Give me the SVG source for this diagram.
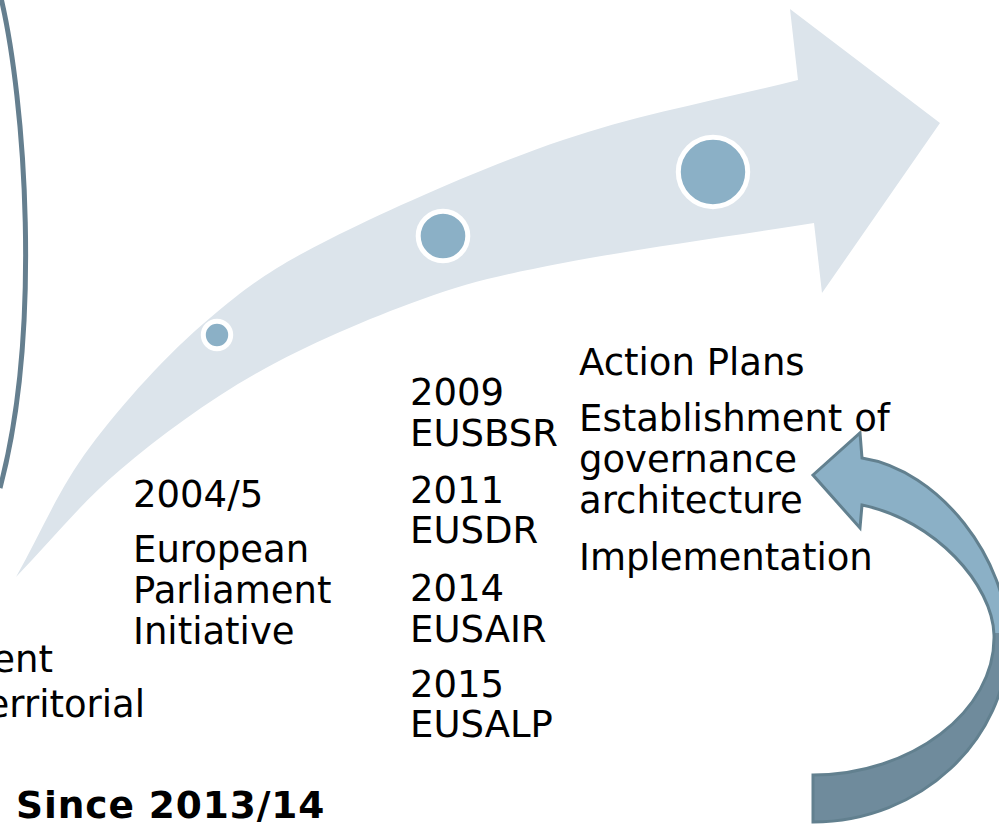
<svg xmlns="http://www.w3.org/2000/svg" width="999" height="825" viewBox="0 0 999 825">
  <defs>
    <style>
      .lbl { font-family: "DejaVu Sans", Verdana, "Liberation Sans", sans-serif; font-size: 37px; fill: #000; }
      .bold { font-family: "DejaVu Sans", Verdana, "Liberation Sans", sans-serif; font-size: 37.5px; font-weight: bold; letter-spacing: 0.9px; fill: #000; }
      .dot { fill: #8bb0c6; stroke: #ffffff; stroke-width: 5; }
    </style>
    <linearGradient id="cycleFill" gradientUnits="userSpaceOnUse" x1="0" y1="420" x2="0" y2="825">
      <stop offset="0" stop-color="#8bb0c6"/>
      <stop offset="0.526" stop-color="#8bb0c6"/>
      <stop offset="0.526" stop-color="#6f8b9c"/>
      <stop offset="1" stop-color="#6f8b9c"/>
    </linearGradient>
  </defs>

  <rect width="999" height="825" fill="#ffffff"/>

  <!-- edge of the large ring on the left -->
  <g id="ring-edge">
    <path d="M1,-2 C25,100 42,330 0,488" fill="none" stroke="#657f8f" stroke-width="5"/>
  </g>

  <!-- main curved progress arrow -->
  <g id="progress-arrow">
    <path fill="#dce4eb" d="M16,577
      C40.7,533.7 57.7,490.3 90,447
      C122.3,403.7 168,353 210,318
      C250,284 276,266 330,239
      C388.8,209.5 485,166.3 563,140
      C641,113.7 719.7,100 798,80
      L790,9 L940,123 L822,293 L814,223
      C730.3,236.3 628.7,250.2 563,263
      C497.3,275.8 471,281.7 420,300
      C369,318.3 307,344.7 257,373
      C207,401.3 160.2,436 120,470
      C79.8,504 50.7,541.3 16,577 Z"/>
  </g>

  <!-- milestones on the arrow -->
  <g id="stage-1"><circle class="dot" cx="217" cy="335" r="13.7"/></g>
  <g id="stage-2"><circle class="dot" cx="443" cy="236" r="24.8"/></g>
  <g id="stage-3"><circle class="dot" cx="713" cy="172" r="34.7"/></g>

  <!-- returning cycle arrow -->
  <g id="cycle-arrow">
    <path fill="url(#cycleFill)" stroke="#62808f" stroke-width="3" stroke-linejoin="miter"
      d="M813,775
         C910,775 996,712 994,635
         C993,585 935,520 862,505
         L860,528 L813,475 L860,433 L862,458
         C940,470 1008,560 1008,640
         C1008,740 920,822 813,822 Z"/>
  </g>

  <!-- texts -->
  <g id="text-left">
    <text class="lbl" x="53" y="672" text-anchor="end">ent</text>
    <text class="lbl" x="145" y="717" text-anchor="end">erritorial</text>
    <text class="bold" x="16" y="818">Since 2013/14</text>
  </g>

  <g id="text-2004">
    <text class="lbl" x="133" y="507">2004/5</text>
    <text class="lbl" x="133" y="562">European</text>
    <text class="lbl" x="133" y="603">Parliament</text>
    <text class="lbl" x="133" y="644">Initiative</text>
  </g>

  <g id="text-strategies">
    <text class="lbl" x="410" y="405">2009</text>
    <text class="lbl" x="410" y="446">EUSBSR</text>
    <text class="lbl" x="410" y="503">2011</text>
    <text class="lbl" x="410" y="543">EUSDR</text>
    <text class="lbl" x="410" y="601">2014</text>
    <text class="lbl" x="410" y="642">EUSAIR</text>
    <text class="lbl" x="410" y="697">2015</text>
    <text class="lbl" x="410" y="737">EUSALP</text>
  </g>

  <g id="text-steps">
    <text class="lbl" x="579" y="375">Action Plans</text>
    <text class="lbl" x="579" y="431">Establishment of</text>
    <text class="lbl" x="579" y="472">governance</text>
    <text class="lbl" x="579" y="513">architecture</text>
    <text class="lbl" x="579" y="570">Implementation</text>
  </g>
</svg>
